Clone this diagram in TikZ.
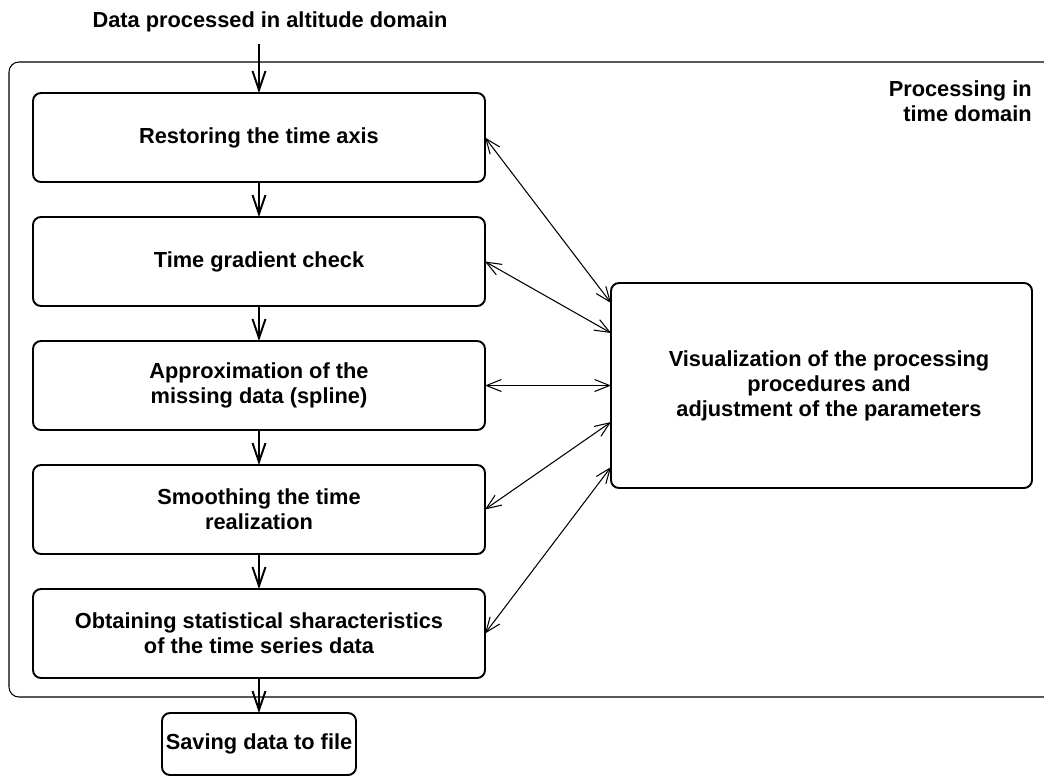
\documentclass[tikz,border=0pt]{standalone}
\usepackage{fontspec}
\setmainfont{Liberation Sans}
\usepackage{tikz}
\usetikzlibrary{positioning}
\usetikzlibrary{arrows.meta}

\begin{document}
\begin{tikzpicture}[
  font=\fontsize{12.4}{14.2}\selectfont\bfseries,
  stage/.style={draw, line width=1.1pt, rounded corners=0.16cm, minimum width=9.04cm, minimum height=1.78cm, align=center, inner sep=0pt, outer sep=0pt},
  flow/.style={-{Straight Barb[length=0.38cm,width=0.26cm]}, line width=1.1pt},
  link/.style={{Straight Barb[length=0.3cm,width=0.24cm]}-{Straight Barb[length=0.3cm,width=0.24cm]}, line width=0.6pt},
  node distance=0.7cm
]
  \useasboundingbox (0,0) rectangle (20.88,-15.58);
  \draw[line width=0.6pt, rounded corners=0.2cm] (20.9,-1.24) -- (0.18,-1.24) -- (0.18,-13.94) -- (20.9,-13.94);
  \node (src) at (5.4,-0.44) {Data processed in altitude domain};
  \node[anchor=east, align=right, inner sep=0pt] (dom) at (20.64,-2.03) {Processing in\\time domain};
  \node[stage] (restore) at (5.18,-2.75) {Restoring the time axis};
  \node[stage, below=of restore] (grad) {Time gradient check};
  \node[stage, below=of grad] (approx) {Approximation of the\\missing data (spline)};
  \node[stage, below=of approx] (smooth) {Smoothing the time\\realization};
  \node[stage, below=of smooth] (stats) {Obtaining statistical sharacteristics\\of the time series data};
  \node[stage, minimum width=3.88cm, minimum height=1.24cm, below=of stats] (save) {Saving data to file};
  \node[stage, minimum width=8.42cm, minimum height=4.1cm, right=2.52cm of approx] (vis) {\hspace*{0.3cm}Visualization of the processing\\\hspace*{0.3cm}procedures and\\\hspace*{0.3cm}adjustment of  the parameters};
  \coordinate (in) at (5.18,-0.88);
  \draw[flow] (in) -- (restore);
  \draw[flow] (restore) -- (grad);
  \draw[flow] (grad) -- (approx);
  \draw[flow] (approx) -- (smooth);
  \draw[flow] (smooth) -- (stats);
  \draw[flow] (stats) -- (save);
  \draw[link] (restore.east) -- ([yshift=1.65cm]vis.west);
  \draw[link] (grad.east) -- ([yshift=1.05cm]vis.west);
  \draw[link] (approx.east) -- (vis.west);
  \draw[link] (smooth.east) -- ([yshift=-0.73cm]vis.west);
  \draw[link] (stats.east) -- ([yshift=-1.63cm]vis.west);
\end{tikzpicture}
\end{document}
